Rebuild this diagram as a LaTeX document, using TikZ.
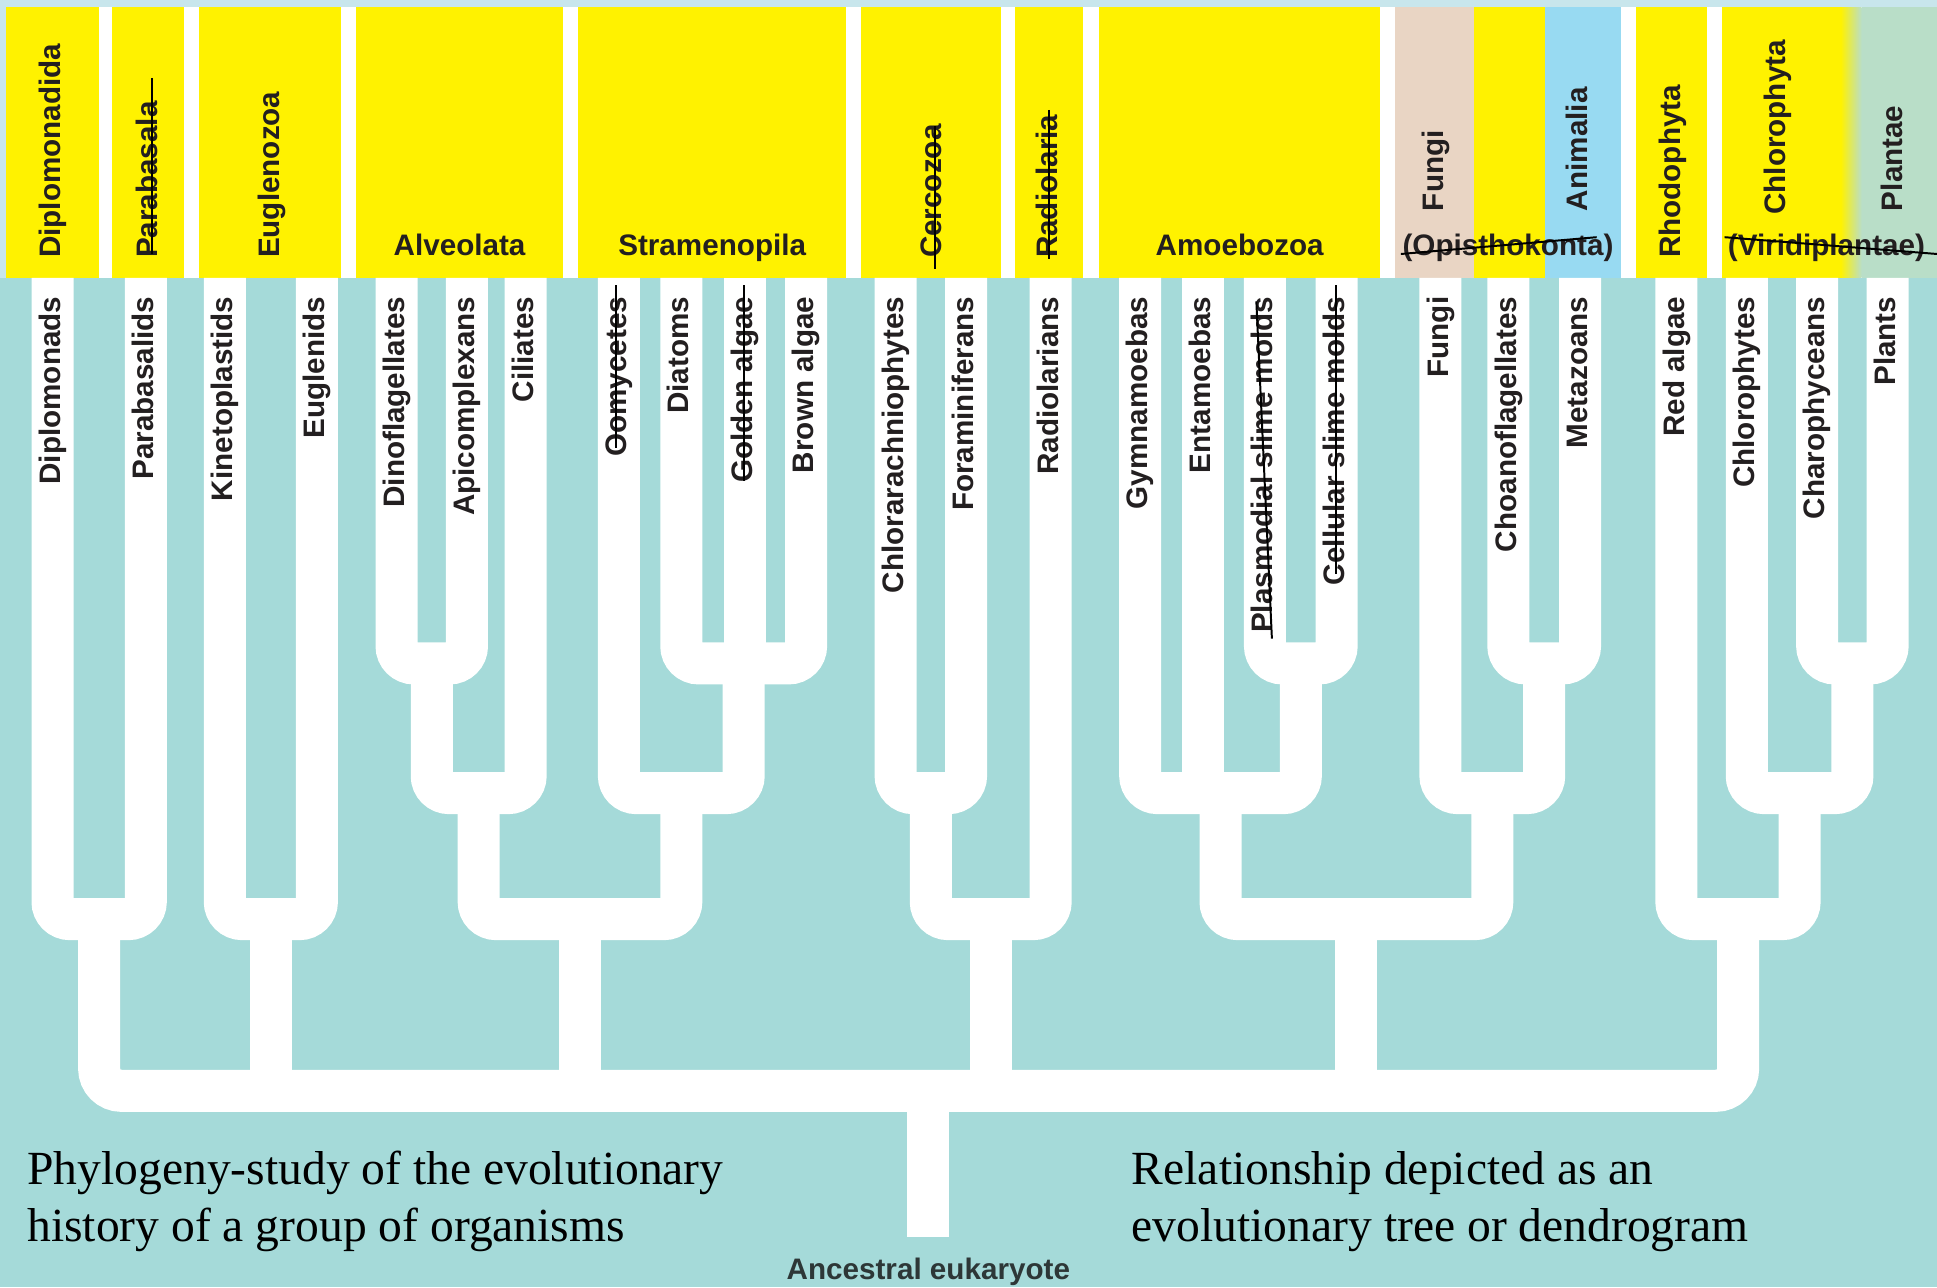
\documentclass[tikz,border=0pt]{standalone}
\usepackage{fontspec}
\setmainfont{Liberation Serif}
\setsansfont{Liberation Sans}
\definecolor{bgteal}{RGB}{165,218,217}
\definecolor{ylw}{RGB}{255,242,0}
\definecolor{beige}{RGB}{233,213,196}
\definecolor{anblue}{RGB}{152,218,242}
\definecolor{plgreen}{RGB}{185,222,200}
\definecolor{topblue}{RGB}{200,230,236}
\definecolor{ink}{RGB}{35,31,32}
\definecolor{ancink}{RGB}{45,55,55}
\tikzset{
  branch/.style={draw=white, line width=34pt, rounded corners=14pt},
  lab/.style={font=\sffamily\bfseries\fontsize{24}{28}\selectfont, text=ink, inner sep=0pt},
  leaflab/.style={lab, rotate=90, anchor=base east},
  hdlab/.style={lab, rotate=90, anchor=base west},
  hhlab/.style={lab, anchor=base},
  strike/.style={draw=black, line width=1.6pt},
  note/.style={font=\rmfamily\fontsize{38.5}{44}\selectfont, text=black, inner sep=0pt, anchor=base west},
}
\begin{document}
\begin{tikzpicture}[x=1pt,y=-1pt]
\useasboundingbox (0,0) rectangle (1568,1042);
% backgrounds
\fill[bgteal] (0,0) rectangle (1568,1042);
\fill[white] (0,0) rectangle (1568,225);
\fill[topblue] (0,0) rectangle (1568,6);
\fill[topblue] (0,0) rectangle (5,225);
% header boxes
\fill[ylw] (5,6) rectangle (80,225);
\fill[ylw] (91,6) rectangle (149,225);
\fill[ylw] (161,6) rectangle (276,225);
\fill[ylw] (288,6) rectangle (456,225);
\fill[ylw] (468,6) rectangle (685,225);
\fill[ylw] (697,6) rectangle (810,225);
\fill[ylw] (822,6) rectangle (877,225);
\fill[ylw] (890,6) rectangle (1117,225);
\fill[beige] (1129,6) rectangle (1193,225);
\fill[ylw] (1193,6) rectangle (1251,225);
\fill[anblue] (1251,6) rectangle (1312,225);
\fill[ylw] (1324,6) rectangle (1382,225);
\fill[ylw] (1394,6) rectangle (1490,225);
\shade[left color=ylw, right color=plgreen] (1490,6) rectangle (1507,225);
\fill[plgreen] (1507,6) rectangle (1568,225);

% leaf tops
\coordinate (tDip) at (42.5,225);
\coordinate (tPar) at (118,225);
\coordinate (tKin) at (182,225);
\coordinate (tEug) at (256.5,225);
\coordinate (tDin) at (321,225);
\coordinate (tApi) at (378,225);
\coordinate (tCil) at (425.5,225);
\coordinate (tOom) at (501,225);
\coordinate (tDia) at (551.5,225);
\coordinate (tGol) at (603,225);
\coordinate (tBro) at (652.5,225);
\coordinate (tChr) at (725,225);
\coordinate (tFor) at (782,225);
\coordinate (tRad) at (850.5,225);
\coordinate (tGym) at (923,225);
\coordinate (tEnt) at (974,225);
\coordinate (tPla) at (1024,225);
\coordinate (tCel) at (1082,225);
\coordinate (tFun) at (1166,225);
\coordinate (tCho) at (1221,225);
\coordinate (tMet) at (1279,225);
\coordinate (tRed) at (1357,225);
\coordinate (tChl) at (1414,225);
\coordinate (tCha) at (1471,225);
\coordinate (tPln) at (1528,225);
% joins
\coordinate (jDA) at (349.5,537);
\coordinate (jDGB) at (602,537);
\coordinate (jPC) at (1053,537);
\coordinate (jCM) at (1250,537);
\coordinate (jCP) at (1499.5,537);
\coordinate (jAlv) at (387.5,642);
\coordinate (jStr) at (551.5,642);
\coordinate (jCF) at (753.5,642);
\coordinate (jAmo) at (988,642);
\coordinate (jOpi) at (1208,642);
\coordinate (jChl) at (1456.75,642);
\coordinate (jDP) at (80.25,744);
\coordinate (jKE) at (219.25,744);
\coordinate (jAS) at (469.5,744);
\coordinate (jCR) at (802,744);
\coordinate (jAO) at (1098,744);
\coordinate (jRC) at (1407,744);
\coordinate (root) at (751,883);
\coordinate (base) at (751,1001);

% tree
\draw[branch] (tDin) |- (jDA) -| (tApi);
\draw[branch] (tDia) |- (jDGB) -| (tBro);
\draw[branch] (tGol) -- (tGol |- jDGB);
\draw[branch] (tPla) |- (jPC) -| (tCel);
\draw[branch] (tCho) |- (jCM) -| (tMet);
\draw[branch] (tCha) |- (jCP) -| (tPln);
\draw[branch] (jDA) |- (jAlv) -| (tCil);
\draw[branch] (tOom) |- (jStr) -| (jDGB);
\draw[branch] (tChr) |- (jCF) -| (tFor);
\draw[branch] (tGym) |- (jAmo) -| (jPC);
\draw[branch] (tEnt) -- (tEnt |- jAmo);
\draw[branch] (tFun) |- (jOpi) -| (jCM);
\draw[branch] (tChl) |- (jChl) -| (jCP);
\draw[branch] (tDip) |- (jDP) -| (tPar);
\draw[branch] (tKin) |- (jKE) -| (tEug);
\draw[branch] (jAlv) |- (jAS) -| (jStr);
\draw[branch] (jCF) |- (jCR) -| (tRad);
\draw[branch] (jAmo) |- (jAO) -| (jOpi);
\draw[branch] (tRed) |- (jRC) -| (jChl);
\draw[branch, rounded corners=18pt] (jDP) |- (root) -| (jRC);
\draw[branch] (jKE) -- (jKE |- root);
\draw[branch] (jAS) -- (jAS |- root);
\draw[branch] (jCR) -- (jCR |- root);
\draw[branch] (jAO) -- (jAO |- root);
\draw[branch] (root) -- (base);

% header labels (baseline x = visual centre + 6.2)
\node[hdlab] (hDip) at (48.8,209) {Diplomonadida};
\node[hdlab] (hPar) at (127.2,209) {Parabasala};
\node[hdlab] (hEug) at (226.2,209) {Euglenozoa};
\node[hhlab] (hAlv) at (372,206.5) {Alveolata};
\node[hhlab] (hStr) at (576.5,206.5) {Stramenopila};
\node[hdlab] (hCer) at (761.9,209) {Cercozoa};
\node[hdlab] (hRad) at (855.7,209) {Radiolaria};
\node[hhlab] (hAmo) at (1003.5,206.5) {Amoebozoa};
\node[hdlab] (hFun) at (1168.7,171) {Fungi};
\node[hhlab] (hOpi) at (1220.7,206.5) {(Opisthokonta)};
\node[hdlab] (hAni) at (1285.2,171) {Animalia};
\node[hdlab] (hRho) at (1360.2,209) {Rhodophyta};
\node[hdlab] (hChl) at (1445.2,174) {Chlorophyta};
\node[hhlab] (hVir) at (1478.5,206.5) {(Viridiplantae)};
\node[hdlab] (hPlt) at (1540.2,171) {Plantae};

% leaf labels (baseline x = column centre + 6.2)
\node[leaflab] (lDip) at (48.7,240) {Diplomonads};
\node[leaflab] (lPar) at (124.2,240) {Parabasalids};
\node[leaflab] (lKin) at (188.2,240) {Kinetoplastids};
\node[leaflab] (lEug) at (262.7,240) {Euglenids};
\node[leaflab] (lDin) at (327.2,240) {Dinoflagellates};
\node[leaflab] (lApi) at (384.2,240) {Apicomplexans};
\node[leaflab] (lCil) at (431.7,240) {Ciliates};
\node[leaflab] (lOom) at (507.2,240) {Oomycetes};
\node[leaflab] (lDia) at (557.7,240) {Diatoms};
\node[leaflab] (lGol) at (609.2,240) {Golden algae};
\node[leaflab] (lBro) at (658.7,240) {Brown algae};
\node[leaflab] (lChr) at (731.2,240) {Chlorarachniophytes};
\node[leaflab] (lFor) at (788.2,240) {Foraminiferans};
\node[leaflab] (lRad) at (856.7,240) {Radiolarians};
\node[leaflab] (lGym) at (929.2,240) {Gymnamoebas};
\node[leaflab] (lEnt) at (980.2,240) {Entamoebas};
\node[leaflab] (lPla) at (1030.2,240) {Plasmodial slime molds};
\node[leaflab] (lCel) at (1088.2,240) {Cellular slime molds};
\node[leaflab] (lFun) at (1172.2,240) {Fungi};
\node[leaflab] (lCho) at (1227.2,240) {Choanoflagellates};
\node[leaflab] (lMet) at (1285.2,240) {Metazoans};
\node[leaflab] (lRed) at (1363.2,240) {Red algae};
\node[leaflab] (lChl) at (1420.2,240) {Chlorophytes};
\node[leaflab] (lCha) at (1477.2,240) {Charophyceans};
\node[leaflab] (lPln) at (1534.2,240) {Plants};

% strike-through marks
\draw[strike] (123,63) -- (123,206);
\draw[strike] (757,102) -- (757,218);
\draw[strike] (849,89) -- (849,210);
\draw[strike] (1134,205.6) -- (1292.5,192);
\draw[strike] (1396,192) -- (1568,205.6);
\draw[strike] (499,231) -- (499,363);
\draw[strike] (602,231) -- (602,389);
\draw[strike] (1017,244) -- (1029.6,517);
\draw[strike] (1081.5,231) -- (1081.5,465);

% bottom texts
\node[lab, anchor=base, text=ancink] (anc) at (751.5,1036) {Ancestral eukaryote};
\node[note] (n1) at (22,959) {Phylogeny-study of the evolutionary};
\node[note] (n2) at (22,1005) {history of a group of organisms};
\node[note] (n3) at (916,959) {Relationship depicted as an};
\node[note] (n4) at (916,1005) {evolutionary tree or dendrogram};
\end{tikzpicture}
\end{document}
